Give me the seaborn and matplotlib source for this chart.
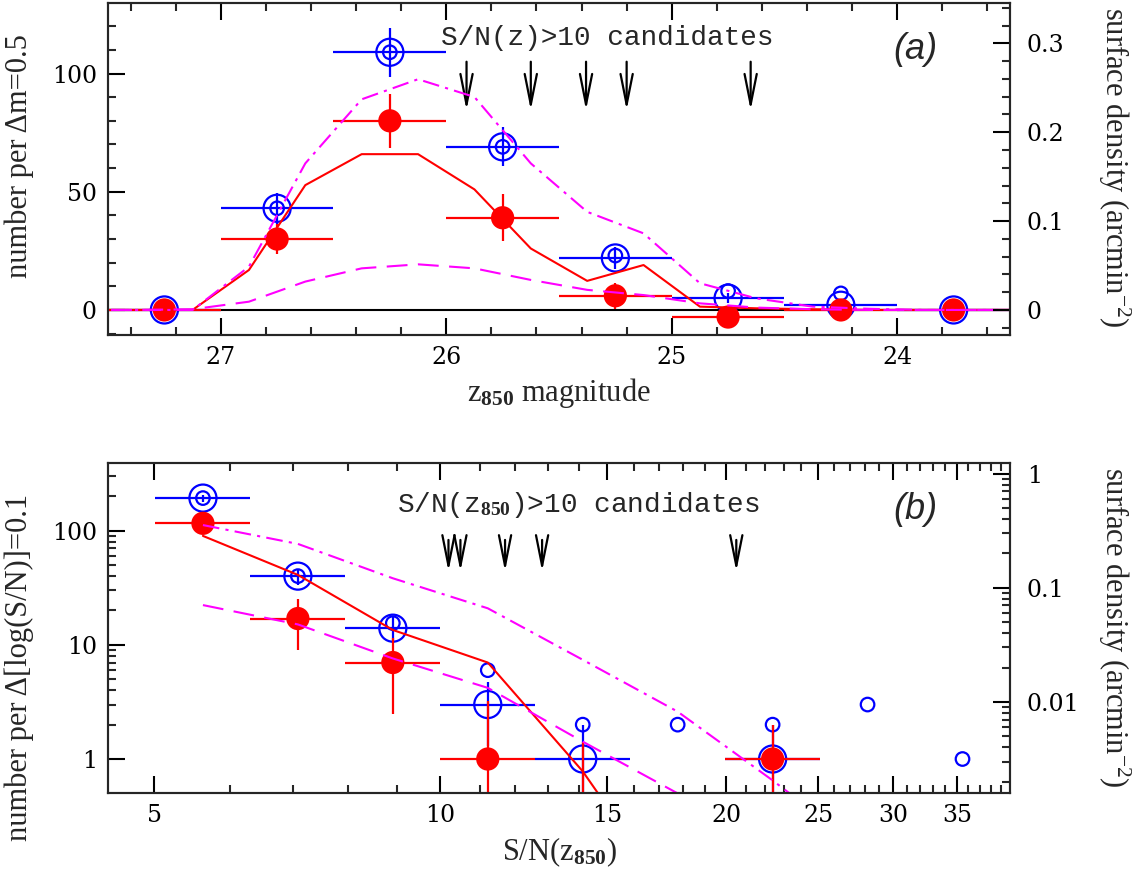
import numpy as np
import pandas as pd
import matplotlib
matplotlib.use("Agg")
import matplotlib.pyplot as plt
import seaborn as sns
from matplotlib.ticker import MultipleLocator, FixedLocator, FuncFormatter, NullFormatter

# ---------------- panel (a): counts per dm=0.5 vs z850 magnitude
mag_bins = [27.25, 26.75, 26.25, 25.75, 25.25, 24.75, 24.25, 23.75]
all_counts = [0, 43, 109, 69, 22, 5, 2, 0]            # blue open circles
all_err = [0, 6.6, 10.4, 8.3, 4.7, 2.2, 1.4, 0]
raw_counts = [np.nan, 43, 109, 69, 23, 8, 7, np.nan]  # small open circles
cand_counts = [0, 30, 80, 39, 6, -3, 0, 0]            # red filled circles
cand_err = [0, 6.4, 11.5, 9.9, 5.5, 3.0, 0, 0]

model_mag = [27.625, 27.375, 27.125, 26.875, 26.625, 26.375, 26.125, 25.875, 25.625,
             25.375, 25.125, 24.875, 24.625, 24.375, 24.125, 23.875, 23.625, 23.375]
model_solid = [0, 0, 0, 16.9, 52.8, 65.9, 65.9, 51, 26, 12.3, 19, 1.4, 0.7, 0.3, 0, 0, 0, 0]
model_dashdot = [0, 0, 0, 18.3, 62, 89.1, 97.6, 90.1, 62, 41.5, 32.4, 11.3, 4.9, 1.4, 0.5, 0, 0, 0]
model_dashed = [0, 0, 0.3, 3.5, 12, 17.6, 19.3, 17.6, 12.7, 8.5, 6.3, 2.8, 1.0, 0.3, 0, 0, 0, 0]
arrow_mag = [25.91, 25.625, 25.38, 25.2, 24.65]

# ---------------- panel (b): counts per dlog(S/N)=0.1 vs S/N
sn_logbins = [0.75, 0.85, 0.95, 1.05, 1.15, 1.25, 1.35, 1.45, 1.55]
sn_all = [193, 40, 14, 3, 1, np.nan, 1, np.nan, np.nan]
sn_all_err = [13.9, 6.3, 3.7, 1.7, 1.0, 0, 1.0, 0, 0]
sn_raw = [193, 40, 15.5, 6, 2, 2, 2, 3, 1]
sn_cand = [116, 17, 7, 1, 0, np.nan, 1, np.nan, np.nan]
sn_cand_err = [20, 8, 4.5, 2.2, 1.4, 0, 1.0, 0, 0]
model_sn_solid = [90, 41, 13.5, 7, 0.78, 0.05]
model_sn_dashdot = [112, 76.6, 38.3, 20.9, 7.4, 2.6, 0.65, 0.15]
model_sn_dashed = [22.3, 15.1, 7.6, 4.2, 1.42, 0.5, 0.15]
arrow_sn = [10.2, 10.5, 11.7, 12.8, 20.5]

area_a = 376.0   # counts -> arcmin^-2 (right axis)
area_b = 316.0

sns.set_theme(style="ticks")
plt.rcParams["font.family"] = ["DejaVu Serif"]
plt.rcParams["mathtext.fontset"] = "custom"
plt.rcParams["mathtext.rm"] = "Liberation Serif"
plt.rcParams["mathtext.bf"] = "Liberation Serif:bold"
plt.rcParams["mathtext.it"] = "Liberation Serif:italic"
plt.rcParams["axes.linewidth"] = 1.5

BLUE, RED, MAG = "#0000ff", "#ff0000", "#ff00ff"
label_font = dict(family="Liberation Serif", size=22)
mono_font = dict(family="Liberation Mono", size=20)

fig = plt.figure(figsize=(11.38, 8.77), dpi=100)
ax1 = fig.add_axes([0.0949, 0.6180, 0.7926, 0.3782])
ax2 = fig.add_axes([0.0949, 0.0958, 0.7926, 0.3766])


def style_ticks(ax):
    ax.tick_params(which="major", direction="in", length=12, width=1.5,
                   labelsize=17, pad=8, colors="black")
    ax.tick_params(which="minor", direction="in", length=6, width=1.5)


def markers(ax, x, big, small, red):
    sns.scatterplot(x=x, y=big, ax=ax, marker="o", s=380, facecolors="none",
                    edgecolor=BLUE, linewidth=1.6, zorder=4)
    sns.scatterplot(x=x, y=small, ax=ax, marker="o", s=95, facecolors="none",
                    edgecolor=BLUE, linewidth=1.6, zorder=4)
    sns.scatterplot(x=x, y=red, ax=ax, marker="o", s=280, color=RED,
                    edgecolor="none", linewidth=0, zorder=6)


# ================= panel (a)
mb = np.array(mag_bins)
ax1.axhline(0, color="black", lw=1.5, zorder=1)
ax1.errorbar(mb, all_counts, xerr=0.25, yerr=all_err, fmt="none",
             ecolor=BLUE, elinewidth=1.6, capsize=0, zorder=3)
ax1.errorbar(mb, cand_counts, xerr=0.25, yerr=cand_err, fmt="none",
             ecolor=RED, elinewidth=1.6, capsize=0, zorder=5)
markers(ax1, mb, all_counts, raw_counts, cand_counts)

sns.lineplot(x=model_mag, y=model_solid, ax=ax1, color=RED, lw=1.5,
             estimator=None, sort=False, zorder=7)
sns.lineplot(x=model_mag, y=model_dashdot, ax=ax1, color=MAG, lw=1.5,
             linestyle=(0, (8, 3, 1.5, 3)), estimator=None, sort=False, zorder=7)
sns.lineplot(x=model_mag, y=model_dashed, ax=ax1, color=MAG, lw=1.5,
             linestyle=(0, (10, 5)), estimator=None, sort=False, zorder=7)

for xm in arrow_mag:
    ax1.annotate("", xy=(xm, 84.5), xytext=(xm, 105),
                 arrowprops=dict(arrowstyle="->,head_length=1.1,head_width=0.22",
                                 lw=1.6, color="black", shrinkA=0, shrinkB=0,
                                 mutation_scale=20))

ax1.set_xlim(27.5, 23.5)
ax1.set_ylim(-10.6, 129.7)
ax1.xaxis.set_major_locator(MultipleLocator(1))
ax1.xaxis.set_minor_locator(MultipleLocator(0.2))
ax1.yaxis.set_major_locator(MultipleLocator(50))
ax1.yaxis.set_minor_locator(MultipleLocator(10))
ax1.xaxis.set_major_formatter(FuncFormatter(lambda v, p: f"{v:.0f}"))
ax1.yaxis.set_major_formatter(FuncFormatter(lambda v, p: f"{v:.0f}"))
style_ticks(ax1)
ax1.tick_params(which="both", top=True, right=False)

ax1.text(0.554, 0.895, "S/N(z)>10 candidates", transform=ax1.transAxes,
         ha="center", va="center", **mono_font)
ax1.text(0.895, 0.862, "(a)", transform=ax1.transAxes, ha="center", va="center",
         family="Liberation Sans", style="italic", size=26)
ax1.set_xlabel(r"z$_{\mathbf{850}}$ magnitude", **label_font)
ax1.xaxis.set_label_coords(0.5, -0.125)
ax1.set_ylabel("number per \u0394m=0.5", **label_font)
ax1.yaxis.set_label_coords(-0.082, 0.54)

ax1r = ax1.twinx()
ax1r.set_ylim(-10.6 / area_a, 129.7 / area_a)
ax1r.yaxis.set_major_locator(MultipleLocator(0.1))
ax1r.yaxis.set_minor_locator(MultipleLocator(0.02))
ax1r.yaxis.set_major_formatter(FuncFormatter(lambda v, p: "0" if abs(v) < 1e-9 else f"{v:.1f}"))
style_ticks(ax1r)
ax1r.tick_params(which="major", pad=12)
ax1r.set_ylabel("surface density (arcmin$^{-2}$)", rotation=270, **label_font)
ax1r.yaxis.set_label_coords(1.135, 0.505)

# ================= panel (b)
lb = np.array(sn_logbins)
sn = 10 ** lb
sn_lo = sn - 10 ** (lb - 0.05)
sn_hi = 10 ** (lb + 0.05) - sn
ax2.set_xscale("log")
ax2.set_yscale("log")
ax2.errorbar(sn, sn_all, xerr=[sn_lo, sn_hi], yerr=sn_all_err, fmt="none",
             ecolor=BLUE, elinewidth=1.6, capsize=0, zorder=3)
ax2.errorbar(sn, sn_cand, xerr=[sn_lo, sn_hi], yerr=sn_cand_err, fmt="none",
             ecolor=RED, elinewidth=1.6, capsize=0, zorder=5)
markers(ax2, sn, sn_all, sn_raw, sn_cand)

sns.lineplot(x=sn[:len(model_sn_solid)], y=model_sn_solid, ax=ax2, color=RED, lw=1.5,
             estimator=None, sort=False, zorder=7)
sns.lineplot(x=sn[:len(model_sn_dashdot)], y=model_sn_dashdot, ax=ax2, color=MAG, lw=1.5,
             linestyle=(0, (8, 3, 1.5, 3)), estimator=None, sort=False, zorder=7)
sns.lineplot(x=sn[:len(model_sn_dashed)], y=model_sn_dashed, ax=ax2, color=MAG, lw=1.5,
             linestyle=(0, (10, 5)), estimator=None, sort=False, zorder=7)

for xs in arrow_sn:
    ax2.annotate("", xy=(xs, 44), xytext=(xs, 83),
                 arrowprops=dict(arrowstyle="->,head_length=1.1,head_width=0.22",
                                 lw=1.6, color="black", shrinkA=0, shrinkB=0,
                                 mutation_scale=20))

ylo_b, yhi_b = 0.504, 394
ax2.set_xlim(10 ** 0.65, 10 ** 1.6)
ax2.set_ylim(ylo_b, yhi_b)
ax2.xaxis.set_major_locator(FixedLocator([5, 10, 15, 20, 25, 30, 35]))
ax2.xaxis.set_minor_locator(FixedLocator([6, 7, 8, 9, 11, 12, 13, 14, 16, 17, 18, 19,
                                          21, 22, 23, 24, 26, 27, 28, 29, 31, 32, 33,
                                          34, 36, 37, 38, 39]))
ax2.xaxis.set_major_formatter(FuncFormatter(lambda v, p: f"{v:.0f}"))
ax2.xaxis.set_minor_formatter(NullFormatter())
ax2.yaxis.set_major_locator(FixedLocator([1, 10, 100]))
ax2.yaxis.set_minor_locator(FixedLocator([2, 3, 4, 5, 6, 7, 8, 9, 20, 30, 40, 50, 60,
                                          70, 80, 90, 200, 300]))
ax2.yaxis.set_major_formatter(FuncFormatter(lambda v, p: f"{v:.0f}"))
ax2.yaxis.set_minor_formatter(NullFormatter())
style_ticks(ax2)
ax2.tick_params(which="both", top=True, right=False)

ax2.text(0.521, 0.872, r"S/N(z$_{\mathbf{850}}$)>10 candidates", transform=ax2.transAxes,
         ha="center", va="center", **mono_font)
ax2.text(0.895, 0.857, "(b)", transform=ax2.transAxes, ha="center", va="center",
         family="Liberation Sans", style="italic", size=26)
ax2.set_xlabel(r"S/N(z$_{\mathbf{850}}$)", **label_font)
ax2.xaxis.set_label_coords(0.5, -0.13)
ax2.set_ylabel("number per \u0394[log(S/N)]=0.1", **label_font)
ax2.yaxis.set_label_coords(-0.082, 0.381)

ax2r = ax2.twinx()
ax2r.set_yscale("log")
ax2r.set_ylim(ylo_b / area_b, yhi_b / area_b)
ax2r.yaxis.set_major_locator(FixedLocator([0.01, 0.1, 1]))
ax2r.yaxis.set_minor_locator(FixedLocator([0.002, 0.003, 0.004, 0.005, 0.006, 0.007,
                                           0.008, 0.009, 0.02, 0.03, 0.04, 0.05, 0.06,
                                           0.07, 0.08, 0.09, 0.2, 0.3, 0.4, 0.5, 0.6,
                                           0.7, 0.8, 0.9]))
ax2r.yaxis.set_major_formatter(FuncFormatter(lambda v, p: f"{v:g}"))
ax2r.yaxis.set_minor_formatter(NullFormatter())
style_ticks(ax2r)
ax2r.tick_params(which="major", pad=12)
ax2r.set_ylabel("surface density (arcmin$^{-2}$)", rotation=270, **label_font)
ax2r.yaxis.set_label_coords(1.135, 0.5)

for a in (ax1, ax2, ax1r, ax2r):
    a.grid(False)

fig.savefig("out.png", dpi=100)
